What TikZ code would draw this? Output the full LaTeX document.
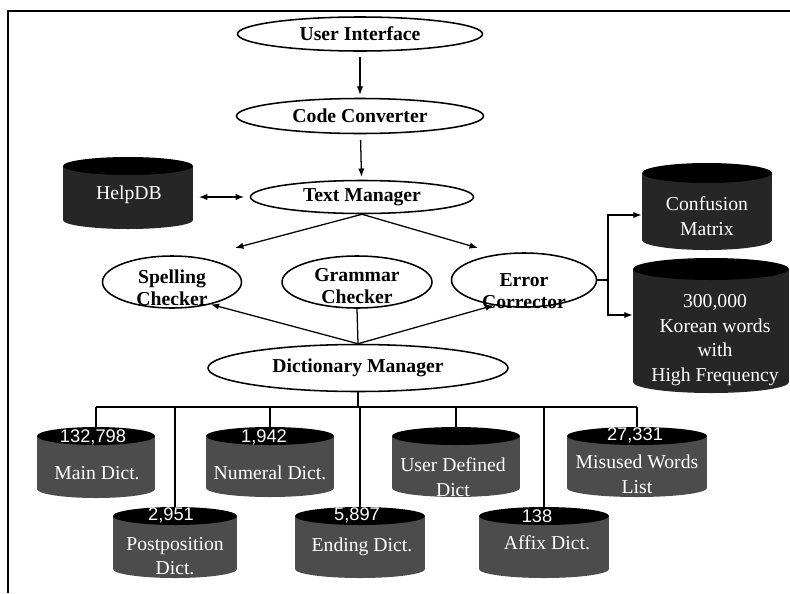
\documentclass[tikz,border=0pt]{standalone}
\usepackage{fontspec}
\setmainfont{Liberation Serif}
\newfontfamily\numfont{Liberation Sans}
\usepackage{xcolor}
\usepackage{tikz}
\usetikzlibrary{shapes.geometric,arrows.meta}

\newcommand{\dbdrum}[7]{%
	\fill[#7] (#2-#5,#3+#6) rectangle (#2+#5,#4-#6);
	\fill[#7] (#2,#4-#6) ellipse [x radius=#5, y radius=#6];
	\fill[black] (#2,#3+#6) ellipse [x radius=#5, y radius=#6];
	\node[inner sep=0pt, minimum width={2*#5*0.025cm}, minimum height={(#4-#3)*0.025cm}] (#1) at (#2,{(#3+#4)/2}) {};
}

\begin{document}
\begin{tikzpicture}[x=0.025cm, y=-0.025cm,
		proc/.style={ellipse, draw, line width=1.1pt, inner sep=0pt, font=\fontsize{14}{16}\selectfont\bfseries, align=center},
		proclbl/.style={inner sep=0pt, font=\fontsize{14}{16}\selectfont\bfseries, align=center},
		dblbl/.style={text=white, inner sep=0pt, font=\fontsize{14}{17.5}\selectfont, align=center},
		dbnum/.style={text=white, inner sep=0pt, font=\numfont\fontsize{13}{15}\selectfont},
		arr/.style={-{Latex[length=6pt,width=4.5pt]}, line width=0.9pt},
		dbl/.style={{Latex[length=6pt,width=4.5pt]}-{Latex[length=6pt,width=4.5pt]}, line width=0.9pt},
		link/.style={line width=0.9pt}]
			\useasboundingbox (0,0) rectangle (790,593);
			\draw[line width=0.8pt] (8,593) -- (8,11) -- (790,11);

			\node[proc, minimum width=245*0.025cm, minimum height=34*0.025cm] (ui) at (360,34) {User Interface};
			\node[proc, minimum width=247*0.025cm, minimum height=35*0.025cm] (cc) at (360,116) {Code Converter};
			\node[proc, minimum width=223*0.025cm, minimum height=33*0.025cm] (tm) at (362,197) {Text Manager};
			\node[proc, minimum width=139*0.025cm, minimum height=52*0.025cm] (sp) at (172,282) {};
			\node[proclbl] (sp-t) at (172,288) {Spelling\\Checker};
			\node[proc, minimum width=150*0.025cm, minimum height=52*0.025cm] (gc) at (357,282) {};
			\node[proclbl] (gc-t) at (357,286) {Grammar\\Checker};
			\node[proc, minimum width=145*0.025cm, minimum height=54*0.025cm] (ec) at (524,280) {};
			\node[proclbl] (ec-t) at (524,291) {Error\\Corrector};
			\node[proc, minimum width=300*0.025cm, minimum height=47*0.025cm] (dm) at (358,368) {Dictionary Manager};

			\dbdrum{help}{128}{157}{229}{65}{9}{black!85}
			\node[dblbl] (help-t) at (129,195) {HelpDB};
			\dbdrum{conf}{707}{163}{250}{65}{10}{black!85}
			\node[dblbl] (conf-t) at (707,216) {Confusion\\Matrix};
			\dbdrum{kor}{711}{258}{393}{78}{11}{black!85}
			\node[dblbl] (kor-t) at (715,340) {300,000\\Korean words\\with\\High Frequency};

			\dbdrum{main}{96}{427}{498}{59}{9}{black!70}
			\node[dbnum] (main-n) at (93,437) {132,798};
			\node[dblbl] (main-t) at (97,473) {Main Dict.};
			\dbdrum{num}{270}{427}{497}{64}{9}{black!70}
			\node[dbnum] (num-n) at (264,437) {1,942};
			\node[dblbl] (num-t) at (270,473) {Numeral Dict.};
			\dbdrum{user}{456}{427}{497}{64}{9}{black!70}
			\node[dblbl] (user-t) at (453,477) {User Defined\\Dict};
			\dbdrum{mis}{637}{427}{497}{70}{9}{black!70}
			\node[dbnum] (mis-n) at (635,435) {27,331};
			\node[dblbl] (mis-t) at (637,474) {Misused Words\\List};
			\dbdrum{post}{175}{507}{578}{62}{9}{black!70}
			\node[dbnum] (post-n) at (171,515) {2,951};
			\node[dblbl] (post-t) at (175,556) {Postposition\\Dict.};
			\dbdrum{ending}{360}{507}{578}{65}{9}{black!70}
			\node[dbnum] (ending-n) at (357,515) {5,897};
			\node[dblbl] (ending-t) at (362,547) {Ending Dict.};
			\dbdrum{affix}{544}{507}{578}{65}{9}{black!70}
			\node[dbnum] (affix-n) at (537,516) {138};
			\node[dblbl] (affix-t) at (547,543) {Affix Dict.};

			\draw[arr, shorten <=4pt, shorten >=2pt] (ui) -- (cc);
			\draw[arr, shorten <=4pt, shorten >=2pt] (cc) -- (tm);
			\draw[dbl, shorten <=4pt, shorten >=4pt] (help.east |- tm.west) -- (tm.west);
			\coordinate (spin) at (235,248);
			\coordinate (ecin) at (478,248);
			\draw[arr] (tm.south) -- (spin);
			\draw[arr] (tm.south) -- (ecin);
			\draw[arr] (dm.north) -- (sp.-30);
			\draw[link] (dm.north) -- (gc.south);
			\draw[arr] (dm.north) -- (ec.220);
			\coordinate (bus) at (358,407);
			\draw[link] (dm.south) -- (bus);
			\draw[link] (main.north |- bus) -- (mis.north |- bus);
			\foreach \d in {main,post,num,ending,user,affix,mis}
				\draw[link] (\d.north |- bus) -- (\d.north);
			\coordinate (fork) at (608,280);
			\draw[link] (ec.east) -- (fork);
			\draw[arr] (fork) |- (conf.west |- 0,215);
			\draw[arr] (fork) |- (kor.west |- 0,315);
		\end{tikzpicture}
\end{document}
